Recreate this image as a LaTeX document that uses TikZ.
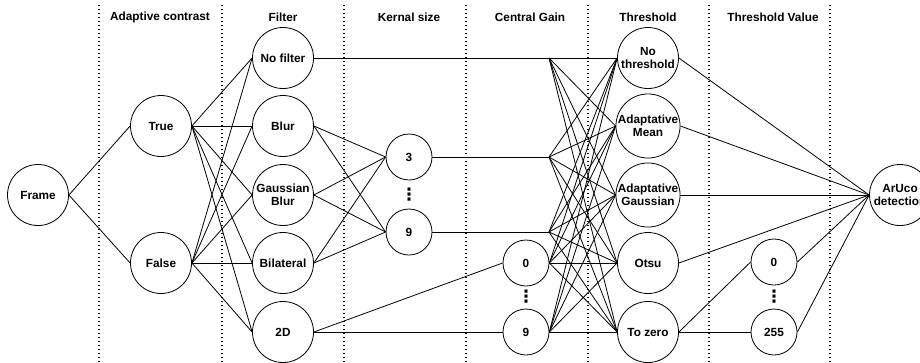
\documentclass[tikz,border=0pt]{standalone}
\usepackage{fontspec}
\setmainfont{Liberation Sans}
\newfontfamily\symfont{DejaVu Sans}
\usetikzlibrary{positioning}

\begin{document}
\begin{tikzpicture}[x=1pt,y=-1pt, font=\bfseries\fontsize{11.8}{13.5}\selectfont,
  bignode/.style={circle, draw, line width=0.8pt, fill=white, minimum size=61pt, inner sep=0pt, align=center},
  smallnode/.style={bignode, minimum size=46pt},
  dotsnode/.style={font=\symfont\bfseries\fontsize{17}{17}\selectfont, inner sep=0pt},
  link/.style={line width=0.8pt},
  colsep/.style={line width=1.2pt, dash pattern=on 1.2pt off 2.8pt}]
\useasboundingbox (0,0) rectangle (920,362);
% column separators and headers
\foreach \x in {99,222,344,466,588,709,830} {
  \draw[colsep] (\x,5) -- (\x,362);
}
\foreach \x/\lab in {160/Adaptive contrast,283/Filter,409/Kernal size,530/Central Gain,648/Threshold,773/Threshold Value} {
  \node (head\x) at (\x,17) {\lab};
}
% nodes
\node[bignode] (frame) at (38,195) {Frame};
\node[bignode] (true) at (161,126) {True};
\node[bignode] (false) at (161,263) {False};
\node[bignode] (nofilter) at (283,58) {No filter};
\node[bignode] (blur) at (283,126) {Blur};
\node[bignode] (gauss) at (283,195) {Gaussian\\Blur};
\node[bignode] (bilat) at (283,263) {Bilateral};
\node[bignode] (twod) at (283,332) {2D};
\node[smallnode] (ks3) at (409,157) {3};
\node[dotsnode] (ksdots) at (409,195) {⋮};
\node[smallnode] (ks9) at (409,232) {9};
\node[smallnode] (cg0) at (526,263) {0};
\node[dotsnode] (cgdots) at (526,297) {⋮};
\node[smallnode] (cg9) at (526,332) {9};
\node[bignode] (thr1) at (648,58) {No\\threshold};
\node[bignode] (thr2) at (648,126) {Adaptative\\Mean};
\node[bignode] (thr3) at (648,195) {Adaptative\\Gaussian};
\node[bignode] (thr4) at (648,263) {Otsu};
\node[bignode] (thr5) at (648,332) {To zero};
\node[smallnode] (tv0) at (774,262) {0};
\node[dotsnode] (tvdots) at (774,297) {⋮};
\node[smallnode] (tv255) at (774,332) {255};
\node[bignode] (aruco) at (900,195) {ArUco\\detection};
% bends before the threshold column
\coordinate (nfbend) at (549,58);
\coordinate (k3bend) at (549,157);
\coordinate (k9bend) at (549,232);
% connectors
\draw[link] (frame.east) -- (true.west);
\draw[link] (frame.east) -- (false.west);
\foreach \f in {nofilter,blur,gauss,bilat,twod} {
  \draw[link] (true.east) -- (\f.west);
  \draw[link] (false.east) -- (\f.west);
}
\foreach \f in {blur,gauss,bilat} {
  \draw[link] (\f.east) -- (ks3.west);
  \draw[link] (\f.east) -- (ks9.west);
}
\draw[link] (twod.east) -- (cg0.west);
\draw[link] (twod.east) -- (cg9.west);
\draw[link] (nofilter.east) -- (nfbend);
\draw[link] (ks3.east) -- (k3bend);
\draw[link] (ks9.east) -- (k9bend);
\foreach \s in {nfbend,k3bend,k9bend,cg0.east,cg9.east} {
  \foreach \t in {thr1,thr2,thr3,thr4,thr5} {
    \draw[link] (\s) -- (\t.west);
  }
}
\foreach \t in {thr1,thr2,thr3,thr4} {
  \draw[link] (\t.east) -- (aruco.west);
}
\draw[link] (thr5.east) -- (tv0.west);
\draw[link] (thr5.east) -- (tv255.west);
\draw[link] (tv0.east) -- (aruco.west);
\draw[link] (tv255.east) -- (aruco.west);
\end{tikzpicture}
\end{document}
